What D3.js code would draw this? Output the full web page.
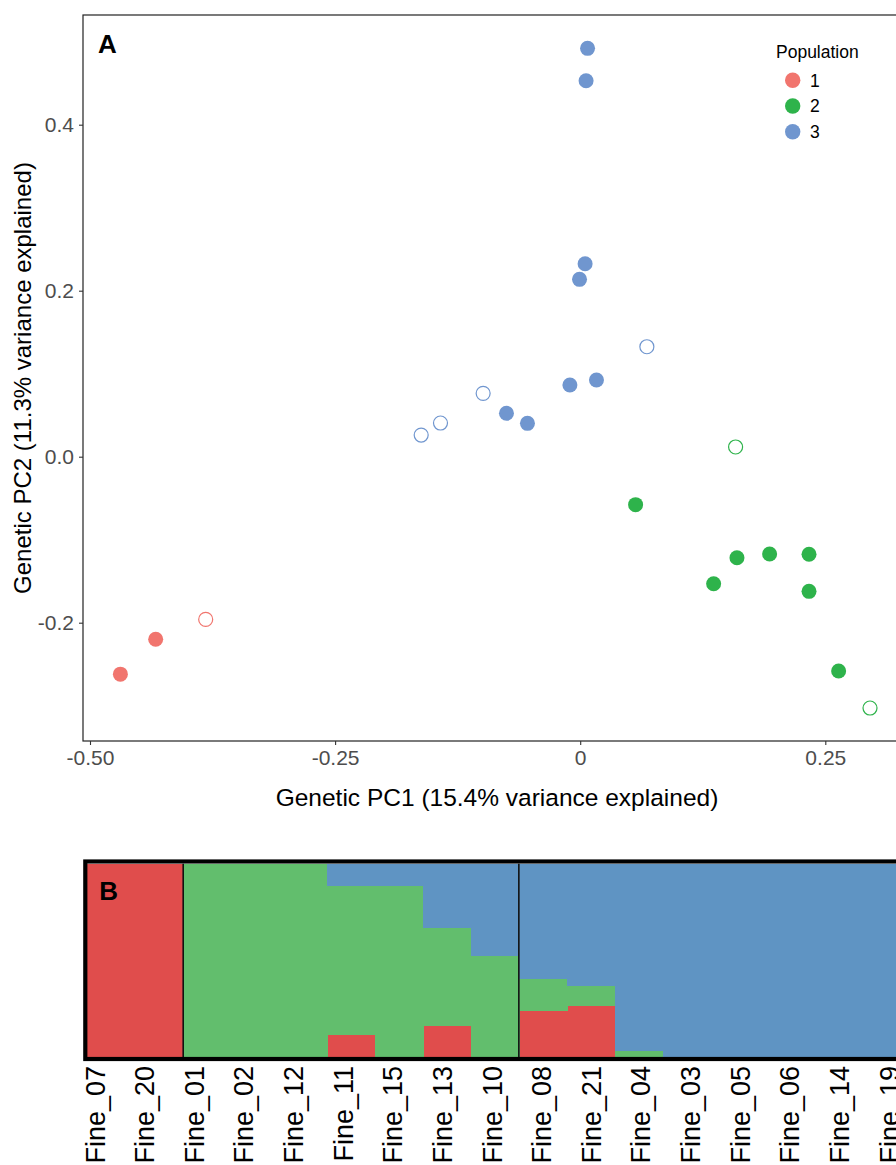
<!DOCTYPE html>
<html>
<head>
<meta charset="utf-8">
<script src="https://cdn.jsdelivr.net/npm/d3@7"></script>
<style>
  body { margin: 0; overflow: hidden; background: #fff; }
  text { font-family: "Liberation Sans", Arial, Helvetica, sans-serif; }
</style>
</head>
<body>
<svg width="896" height="1165"></svg>
<script>
// PCA data (panel A)
let pc1 = [-0.469, -0.433, -0.382,
  0.0075, 0.006, 0.005, -0.0007, 0.068, 0.0166, -0.0105, -0.099, -0.0752, -0.0538, -0.1622, -0.1425,
  0.1585, 0.0565, 0.1599, 0.1932, 0.2334, 0.1361, 0.2334, 0.2636, 0.2956];
let pc2 = [-0.262, -0.22, -0.196,
  0.492, 0.453, 0.2325, 0.2137, 0.1325, 0.0924, 0.0864, 0.0763, 0.0523, 0.0402, 0.0261, 0.0406,
  0.0117, -0.0578, -0.1217, -0.1172, -0.1176, -0.153, -0.1622, -0.2582, -0.3028];
let population = [1, 1, 1,
  3, 3, 3, 3, 3, 3, 3, 3, 3, 3, 3, 3,
  2, 2, 2, 2, 2, 2, 2, 2, 2];
let filled = [true, true, false,
  true, true, true, true, false, true, true, false, true, true, false, false,
  false, true, true, true, true, true, true, true, false];
let popLevels = [1, 2, 3];
let xTicks = [-0.5, -0.25, 0, 0.25];
let xTickLabels = ["-0.50", "-0.25", "0", "0.25"];
let yTicks = [0.4, 0.2, 0, -0.2];
let yTickLabels = ["0.4", "0.2", "0.0", "-0.2"];

// admixture data (panel B)
let samples = ["Fine_07", "Fine_20", "Fine_01", "Fine_02", "Fine_12", "Fine_11", "Fine_15", "Fine_13", "Fine_10",
  "Fine_08", "Fine_21", "Fine_04", "Fine_03", "Fine_05", "Fine_06", "Fine_14", "Fine_19"];
let sampleGroup = [1, 1, 2, 2, 2, 2, 2, 2, 2, 3, 3, 3, 3, 3, 3, 3, 3];
let q1 = [1, 1, 0, 0, 0, 0.112, 0, 0.16, 0, 0.236, 0.264, 0, 0, 0, 0, 0, 0];
let q2 = [0, 0, 1, 1, 1, 0.771, 0.883, 0.506, 0.521, 0.167, 0.105, 0.029, 0, 0, 0, 0, 0];
let q3 = [0, 0, 0, 0, 0, 0.117, 0.117, 0.334, 0.479, 0.597, 0.631, 0.971, 1, 1, 1, 1, 1];

let svg = d3.select("svg");
let pcaColor = d3.scaleOrdinal().domain(popLevels).range(["#F1756E", "#2EB34B", "#7096CF"]);
let admixColor = d3.scaleOrdinal().domain(["q1", "q2", "q3"]).range(["#E04D4C", "#62BE6D", "#5F94C3"]);

//panel A
let x = d3.scaleLinear().domain([-0.5, 0.25]).range([90, 825.3]);
let y = d3.scaleLinear().domain([-0.2, 0.4]).range([622.7, 124.7]);
let panelA = { left: 83, top: 15, bottom: 741, right: 911 };

svg.append("rect")
  .attr("x", panelA.left)
  .attr("y", panelA.top)
  .attr("width", panelA.right - panelA.left)
  .attr("height", panelA.bottom - panelA.top)
  .attr("fill", "none")
  .attr("stroke", "#222")
  .attr("stroke-width", 1.2);

let xAxis = svg.append("g")
  .attr("transform", "translate(0," + panelA.bottom + ")")
  .call(d3.axisBottom(x).tickValues(xTicks).tickSize(4).tickPadding(5)
    .tickFormat((d, i) => xTickLabels[i]));
let yAxis = svg.append("g")
  .attr("transform", "translate(" + panelA.left + ",0)")
  .call(d3.axisLeft(y).tickValues(yTicks).tickSize(4).tickPadding(5)
    .tickFormat((d, i) => yTickLabels[i]));
[xAxis, yAxis].forEach(g => {
  g.select(".domain").remove();
  g.selectAll(".tick line").attr("stroke", "#333").attr("stroke-width", 1.1);
  g.selectAll(".tick text")
    .attr("fill", "#4d4d4d")
    .style("font-size", "21px")
    .style("font-family", "'Liberation Sans', Arial, sans-serif");
});

svg.append("text")
  .attr("x", (panelA.left + panelA.right) / 2)
  .attr("y", 806)
  .attr("text-anchor", "middle")
  .style("font-size", "24.5px")
  .text("Genetic PC1 (15.4% variance explained)");

svg.append("text")
  .attr("transform", "translate(31," + (panelA.top + panelA.bottom) / 2 + ") rotate(-90)")
  .attr("text-anchor", "middle")
  .style("font-size", "24px")
  .text("Genetic PC2 (11.3% variance explained)");

svg.append("text")
  .attr("x", 98)
  .attr("y", 53)
  .style("font-size", "26px")
  .style("font-weight", "bold")
  .text("A");

//points
svg.append("g")
  .selectAll("circle")
  .data(d3.range(pc1.length))
  .enter()
  .append("circle")
  .attr("cx", i => x(pc1[i]))
  .attr("cy", i => y(pc2[i]))
  .attr("r", i => (filled[i] ? 7.5 : 7))
  .attr("fill", i => (filled[i] ? pcaColor(population[i]) : "none"))
  .attr("stroke", i => (filled[i] ? "none" : pcaColor(population[i])))
  .attr("stroke-width", 1.2);

//legend
let legend = svg.append("g").attr("transform", "translate(776,0)");
legend.append("text")
  .attr("y", 58)
  .style("font-size", "17.5px")
  .text("Population");
let keys = legend.selectAll(".key")
  .data(popLevels)
  .enter()
  .append("g")
  .attr("transform", (d, i) => "translate(0," + (80.3 + i * 25.7) + ")");
keys.append("circle")
  .attr("cx", 16.7)
  .attr("r", 7.7)
  .attr("fill", d => pcaColor(d));
keys.append("text")
  .attr("x", 34)
  .attr("dy", "0.36em")
  .style("font-size", "17.5px")
  .text(d => d);

//panel B
let panelB = { left: 87.3, top: 863.7, bottom: 1057 };
let xb = d3.scaleBand().domain(samples).range([panelB.left, panelB.left + samples.length * 47.95]);
let yb = d3.scaleLinear().domain([0, 1]).range([panelB.bottom, panelB.top]);
let rows = samples.map((s, i) => ({ sample: s, q1: q1[i], q2: q2[i], q3: q3[i] }));
let stacked = d3.stack().keys(["q1", "q2", "q3"])(rows);

svg.append("g")
  .attr("shape-rendering", "crispEdges")
  .selectAll("g")
  .data(stacked)
  .enter()
  .append("g")
  .attr("fill", d => admixColor(d.key))
  .selectAll("rect")
  .data(d => d)
  .enter()
  .append("rect")
  .attr("x", d => xb(d.data.sample))
  .attr("y", d => yb(d[1]))
  .attr("width", xb.bandwidth() + 1)
  .attr("height", d => yb(d[0]) - yb(d[1]));

// lines between population groups
let breaks = samples.filter((s, i) => i > 0 && sampleGroup[i] != sampleGroup[i - 1]);
svg.append("g")
  .selectAll("line")
  .data(breaks)
  .enter()
  .append("line")
  .attr("x1", d => xb(d))
  .attr("x2", d => xb(d))
  .attr("y1", panelB.top)
  .attr("y2", panelB.bottom)
  .attr("stroke", "#111")
  .attr("stroke-width", 1.6);

svg.append("rect")
  .attr("x", 85.3)
  .attr("y", 861.5)
  .attr("width", 1000)
  .attr("height", 1059 - 861.5)
  .attr("fill", "none")
  .attr("stroke", "#000")
  .attr("stroke-width", 4.2);

svg.append("text")
  .attr("x", 99.3)
  .attr("y", 900.3)
  .style("font-size", "26px")
  .style("font-weight", "bold")
  .text("B");

//sample labels
let xl = d3.scalePoint().domain(samples).range([95, 95 + (samples.length - 1) * 49.63]);
svg.append("g")
  .selectAll("text")
  .data(samples)
  .enter()
  .append("text")
  .attr("transform", d => "translate(" + (xl(d) + 9.5) + ",1066) rotate(-90)")
  .attr("text-anchor", "end")
  .style("font-size", "27px")
  .text(d => d);
</script>
</body>
</html>
